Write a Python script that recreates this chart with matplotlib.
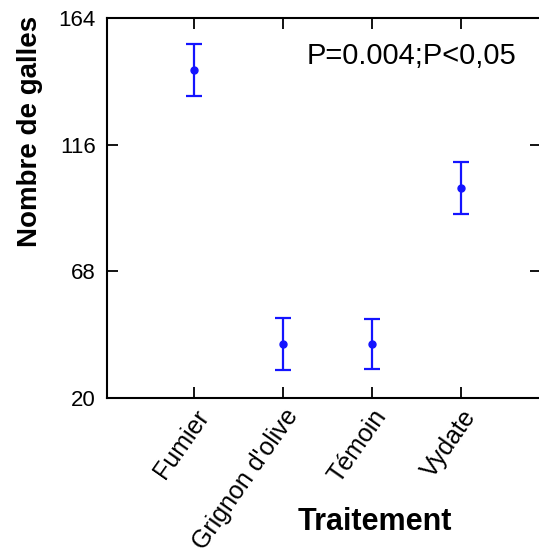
import matplotlib
matplotlib.use('Agg')
import matplotlib.pyplot as plt

plt.rcParams['font.family'] = ['Liberation Sans', 'DejaVu Sans']

# Data
traitements = ['Fumier', "Grignon d'olive", 'Témoin', 'Vydate']
moyennes = [144.3, 40.5, 40.5, 99.6]
erreurs = [9.9, 9.9, 9.5, 9.9]
yticks = [20, 68, 116, 164]

fig = plt.figure(figsize=(5.39, 5.49), dpi=100)
ax = fig.add_axes([0.1985, 0.275, 0.805, 0.692])

x = list(range(1, len(traitements) + 1))
ax.errorbar(x, moyennes, yerr=erreurs, fmt='o', color='#1414ff', ms=5,
            elinewidth=1.6, capsize=6, capthick=1.6)

ax.set_xlim(0.02, 4.9)
ax.set_ylim(20, 164)
ax.set_yticks(yticks)
ax.set_xticks(x)
ax.set_xticklabels(traitements, rotation=55, ha='right', rotation_mode='anchor')
ax.tick_params(direction='in', length=8, width=1.3, top=True, right=True)
ax.tick_params(axis='x', pad=5, labelsize=18)
ax.tick_params(axis='y', pad=8, labelsize=16)
for s in ax.spines.values():
    s.set_linewidth(1.5)

ax.text(0.943, 0.9, 'P=0.004;P<0,05', transform=ax.transAxes, ha='right',
        va='center', fontsize=21)

fig.text(30 / 539, 1 - 131 / 549, 'Nombre de galles', rotation=90,
         ha='center', va='center', fontsize=20, fontweight='bold')
fig.text(375 / 539, 1 - 522 / 549, 'Traitement', ha='center', va='center',
         fontsize=22, fontweight='bold')

fig.savefig('out.png', dpi=100)
